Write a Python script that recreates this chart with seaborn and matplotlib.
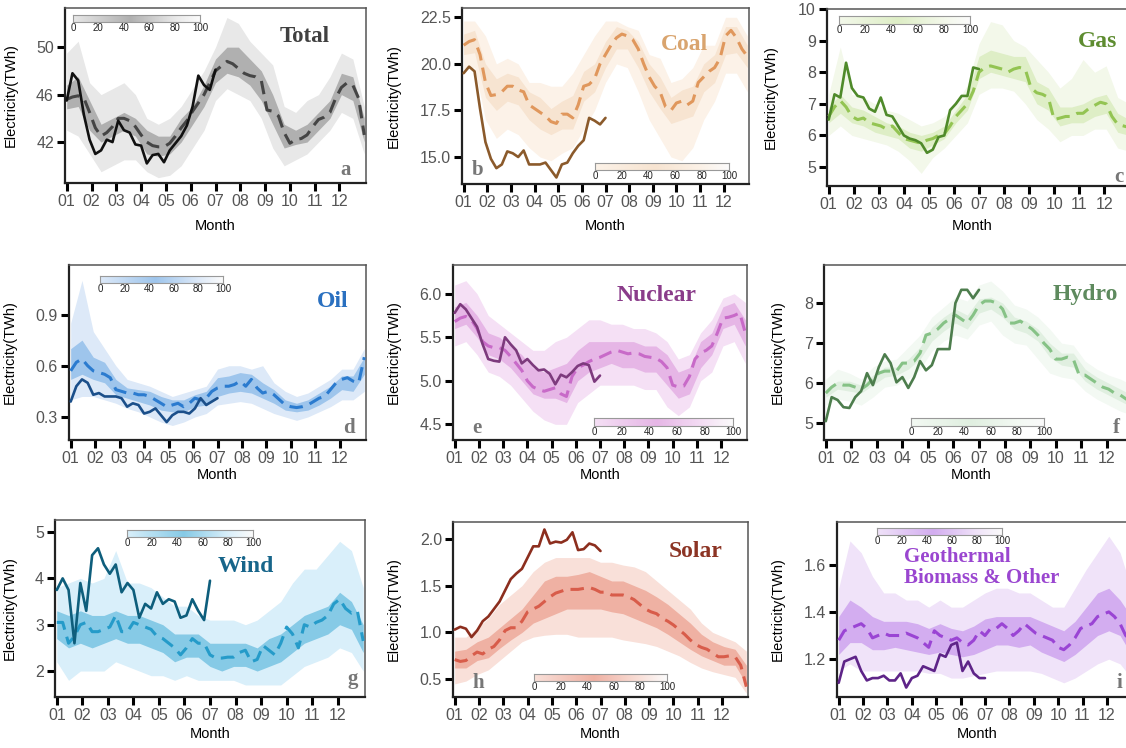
import numpy as np
import pandas as pd
import seaborn as sns
from matplotlib import pyplot as plt, ticker
from matplotlib.colors import LinearSegmentedColormap

# weekly values, week 0 = first week of January
MONTH_LABELS = ["01", "02", "03", "04", "05", "06", "07", "08", "09", "10", "11", "12"]
CBAR_TICKS = [0, 20, 40, 60, 80, 100]

TOTAL_MEDIAN = [45.6, 45.8, 45.9, 45.7, 44.5, 43.2, 42.5, 42.8, 43.3, 44.0, 44.0, 43.8, 43.3, 42.6, 42.0, 41.7, 41.6, 41.6,
                41.9, 42.5, 43.2, 43.8, 44.6, 45.3, 46.0, 47.0, 48.0, 48.4, 48.8, 48.6, 48.2, 47.8, 47.6, 47.5, 47.2, 44.7,
                44.6, 44.2, 42.8, 41.9, 42.2, 42.3, 42.6, 43.3, 43.9, 44.1, 44.5, 45.7, 46.6, 47.0, 46.8, 45.7, 42.6]
TOTAL_CURRENT = [45.5, 47.8, 47.2, 44.3, 42.2, 41.0, 41.3, 42.2, 42.0, 43.8, 43.0, 42.8, 41.8, 41.7, 40.2, 40.9, 41.0,
                 40.3, 41.3, 41.9, 42.5, 43.4, 45.0, 47.6, 46.8, 46.4, 48.1]
# biweekly quantile envelopes: min, 25 %, 75 %, max
TOTAL_LO = [43.0, 42.5, 41.0, 39.5, 40.0, 40.5, 40.5, 39.5, 39.0, 39.2, 40.0, 41.5, 43.0, 45.5, 46.5, 46.0, 45.5, 44.0,
            41.5, 40.0, 40.5, 41.0, 42.0, 43.0, 44.5, 44.0, 41.0]
TOTAL_Q25 = [44.8, 45.0, 43.0, 42.0, 42.5, 43.0, 42.5, 41.0, 40.8, 41.0, 42.0, 43.5, 45.0, 47.0, 47.8, 47.5, 46.8, 45.5,
             43.5, 41.5, 41.8, 42.0, 43.0, 44.0, 46.0, 45.5, 42.0]
TOTAL_Q75 = [46.8, 47.5, 45.5, 43.5, 44.0, 44.5, 44.0, 43.0, 42.5, 42.5, 44.0, 45.0, 46.8, 49.0, 50.0, 50.0, 49.0, 48.0,
             46.0, 43.5, 43.0, 43.5, 44.5, 45.5, 47.8, 47.5, 44.0]
TOTAL_HI = [49.5, 50.5, 47.0, 46.0, 46.5, 47.0, 46.0, 44.0, 43.5, 44.0, 45.0, 46.5, 48.0, 50.0, 52.5, 52.0, 50.5, 49.5,
            48.5, 45.0, 44.5, 45.5, 46.0, 47.5, 49.5, 49.0, 45.0]

COAL_MEDIAN = [21.0, 21.2, 21.3, 20.5, 19.0, 18.3, 18.35, 18.5, 18.8, 18.8, 18.6, 18.5, 17.8, 17.6, 17.4, 17.2, 16.9, 16.8,
               17.3, 17.3, 17.1, 17.8, 18.8, 18.9, 19.2, 20.0, 20.5, 21.0, 21.4, 21.6, 21.5, 21.3, 20.8, 20.0, 19.3, 18.8,
               18.5, 17.7, 17.5, 17.9, 18.0, 17.8, 18.0, 19.0, 19.3, 19.6, 19.8, 20.3, 21.5, 21.8, 21.4, 20.8, 20.4]
COAL_CURRENT = [19.5, 19.85, 19.6, 17.6, 15.8, 14.9, 14.4, 14.6, 15.3, 15.2, 15.0, 15.35, 14.6, 14.6, 14.6, 14.7, 14.3,
                13.9, 14.6, 14.7, 15.2, 15.6, 15.9, 17.1, 16.95, 16.75, 17.1]
COAL_LO = [19.7, 19.8, 17.0, 16.0, 16.5, 16.2, 15.5, 15.0, 14.8, 15.2, 15.5, 16.5, 17.5, 19.0, 20.0, 19.8, 18.5, 17.0,
           16.0, 15.0, 14.8, 15.5, 17.0, 18.0, 19.5, 19.5, 18.5]
COAL_Q25 = [20.5, 20.6, 18.2, 17.5, 18.0, 17.8, 17.0, 16.5, 16.2, 16.5, 16.5, 18.0, 18.5, 19.8, 20.8, 20.8, 19.8, 18.5,
            17.6, 16.8, 17.0, 17.2, 18.5, 19.0, 20.5, 20.6, 19.8]
COAL_Q75 = [21.6, 21.8, 20.0, 19.2, 19.5, 19.3, 18.5, 18.2, 17.6, 18.0, 18.3, 19.6, 20.0, 21.2, 22.0, 21.8, 21.2, 20.0,
            19.3, 18.2, 18.6, 18.8, 20.0, 20.5, 22.0, 22.0, 21.0]
COAL_HI = [22.3, 22.3, 21.5, 20.0, 20.3, 20.0, 19.0, 19.0, 18.8, 18.8, 19.5, 20.5, 21.5, 22.3, 22.3, 22.0, 21.8, 20.5,
           20.3, 19.0, 19.2, 19.8, 21.0, 21.0, 22.5, 22.5, 21.5]

GAS_MEDIAN = [6.6, 6.9, 7.1, 6.9, 6.6, 6.5, 6.55, 6.4, 6.35, 6.3, 6.2, 6.3, 6.1, 5.9, 5.85, 5.8, 5.75, 5.85, 5.9, 6.0,
              6.05, 6.3, 6.6, 6.8, 7.0, 7.4, 8.0, 8.15, 8.2, 8.15, 8.1, 8.0, 8.1, 8.15, 8.1, 7.5, 7.35, 7.3, 7.2, 6.5,
              6.55, 6.6, 6.6, 6.7, 6.7, 6.85, 6.95, 7.05, 7.0, 6.6, 6.35, 6.3, 6.25]
GAS_CURRENT = [6.5, 7.3, 7.2, 8.3, 7.5, 7.25, 7.2, 6.85, 6.75, 7.2, 6.65, 6.6, 6.3, 6.0, 5.9, 5.85, 5.75, 5.45, 5.55,
               5.95, 6.0, 6.8, 7.0, 7.25, 7.25, 8.15, 8.1]
GAS_LO = [6.0, 6.3, 6.0, 5.9, 5.8, 5.7, 5.5, 5.2, 4.8, 5.3, 5.6, 6.0, 6.4, 7.3, 7.5, 7.5, 7.4, 7.0, 6.5, 6.2, 5.8, 6.0,
          6.0, 6.2, 6.2, 5.6, 5.5]
GAS_Q25 = [6.4, 6.7, 6.4, 6.3, 6.1, 6.0, 5.9, 5.6, 5.5, 5.7, 5.9, 6.4, 6.8, 7.8, 8.0, 7.9, 7.8, 7.7, 7.0, 6.8, 6.3, 6.4,
           6.4, 6.6, 6.7, 6.1, 6.0]
GAS_Q75 = [6.9, 7.3, 6.9, 6.8, 6.6, 6.4, 6.3, 6.1, 6.0, 6.1, 6.3, 6.8, 7.3, 8.5, 8.7, 8.6, 8.5, 8.5, 7.7, 7.5, 6.9, 6.9,
           7.0, 7.2, 7.3, 6.7, 6.5]
GAS_HI = [7.3, 8.8, 7.3, 7.2, 7.0, 6.8, 6.7, 6.5, 6.3, 6.4, 6.6, 7.0, 7.6, 8.9, 9.6, 9.5, 9.0, 8.8, 8.4, 8.0, 7.5, 7.8,
          8.4, 8.0, 8.2, 7.2, 7.0]

OIL_MEDIAN = [0.57, 0.62, 0.64, 0.60, 0.57, 0.56, 0.55, 0.53, 0.46, 0.45, 0.44, 0.44, 0.43, 0.43, 0.42, 0.40, 0.38, 0.36,
              0.37, 0.38, 0.36, 0.38, 0.41, 0.40, 0.41, 0.45, 0.47, 0.48, 0.48, 0.49, 0.51, 0.48, 0.52, 0.47, 0.44, 0.45,
              0.43, 0.40, 0.37, 0.36, 0.355, 0.36, 0.37, 0.39, 0.41, 0.42, 0.46, 0.50, 0.52, 0.53, 0.51, 0.50, 0.65]
OIL_CURRENT = [0.39, 0.48, 0.52, 0.50, 0.43, 0.44, 0.42, 0.42, 0.42, 0.41, 0.36, 0.38, 0.37, 0.32, 0.33, 0.35, 0.31,
               0.27, 0.31, 0.33, 0.33, 0.32, 0.35, 0.41, 0.37, 0.39, 0.41]
OIL_LO = [0.40, 0.42, 0.42, 0.40, 0.38, 0.35, 0.33, 0.30, 0.27, 0.25, 0.27, 0.30, 0.32, 0.37, 0.38, 0.39, 0.38, 0.35,
          0.32, 0.30, 0.28, 0.30, 0.33, 0.36, 0.40, 0.40, 0.45]
OIL_Q25 = [0.52, 0.55, 0.52, 0.50, 0.43, 0.41, 0.39, 0.37, 0.34, 0.33, 0.33, 0.36, 0.37, 0.42, 0.44, 0.45, 0.44, 0.41,
           0.38, 0.34, 0.33, 0.34, 0.37, 0.41, 0.46, 0.45, 0.55]
OIL_Q75 = [0.70, 0.75, 0.65, 0.62, 0.52, 0.47, 0.46, 0.45, 0.42, 0.40, 0.40, 0.43, 0.45, 0.53, 0.54, 0.56, 0.55, 0.50,
           0.46, 0.40, 0.38, 0.40, 0.44, 0.48, 0.54, 0.54, 0.65]
OIL_HI = [0.85, 1.10, 0.80, 0.70, 0.60, 0.52, 0.50, 0.48, 0.45, 0.42, 0.44, 0.46, 0.48, 0.58, 0.60, 0.60, 0.58, 0.60,
          0.50, 0.45, 0.42, 0.44, 0.48, 0.52, 0.58, 0.58, 0.70]

NUCLEAR_MEDIAN = [5.68, 5.72, 5.74, 5.70, 5.60, 5.45, 5.40, 5.38, 5.38, 5.35, 5.28, 5.20, 5.12, 5.00, 4.93, 4.90, 4.88,
                  4.90, 4.92, 4.85, 4.82, 5.05, 5.15, 5.18, 5.22, 5.25, 5.27, 5.30, 5.33, 5.35, 5.33, 5.31, 5.32, 5.31,
                  5.28, 5.27, 5.26, 5.22, 5.15, 4.95, 4.93, 4.94, 5.05, 5.25, 5.32, 5.35, 5.40, 5.55, 5.72, 5.73, 5.75,
                  5.78, 5.55]
NUCLEAR_CURRENT = [5.78, 5.88, 5.82, 5.72, 5.62, 5.42, 5.25, 5.23, 5.22, 5.50, 5.42, 5.35, 5.20, 5.25, 5.18, 5.12,
                   5.13, 5.08, 4.96, 5.07, 5.04, 5.10, 5.17, 5.20, 5.18, 4.99, 5.06]
NUCLEAR_LO = [5.40, 5.45, 5.30, 5.10, 5.05, 4.95, 4.80, 4.65, 4.55, 4.50, 4.50, 4.75, 4.85, 4.95, 4.95, 4.95, 4.95,
              4.90, 4.90, 4.70, 4.60, 4.70, 5.00, 5.10, 5.40, 5.45, 5.20]
NUCLEAR_Q25 = [5.60, 5.65, 5.50, 5.30, 5.25, 5.15, 5.00, 4.85, 4.80, 4.80, 4.75, 5.00, 5.10, 5.15, 5.20, 5.15, 5.15,
               5.10, 5.10, 4.95, 4.80, 4.85, 5.15, 5.30, 5.60, 5.65, 5.40]
NUCLEAR_Q75 = [5.85, 5.90, 5.75, 5.55, 5.50, 5.40, 5.30, 5.15, 5.10, 5.15, 5.20, 5.35, 5.45, 5.45, 5.45, 5.45, 5.45,
               5.40, 5.40, 5.30, 5.10, 5.15, 5.45, 5.55, 5.85, 5.90, 5.70]
NUCLEAR_HI = [6.10, 6.15, 6.00, 5.75, 5.65, 5.55, 5.45, 5.35, 5.35, 5.45, 5.50, 5.60, 5.70, 5.70, 5.65, 5.65, 5.60,
              5.60, 5.55, 5.45, 5.25, 5.30, 5.55, 5.70, 5.95, 6.00, 5.90]

HYDRO_MEDIAN = [5.75, 5.9, 6.0, 5.95, 5.95, 5.9, 5.85, 5.95, 6.1, 6.25, 6.3, 6.3, 6.3, 6.5, 6.5, 6.55, 6.75, 7.2, 7.25,
                7.35, 7.5, 7.6, 7.7, 7.6, 7.5, 7.7, 7.95, 8.05, 8.05, 8.0, 7.85, 7.5, 7.5, 7.55, 7.45, 7.35, 7.2, 7.0,
                6.85, 6.6, 6.6, 6.65, 6.6, 6.2, 6.2, 6.1, 6.0, 5.9, 5.85, 5.75, 5.7, 5.6, 5.55]
HYDRO_CURRENT = [5.05, 5.65, 5.58, 5.4, 5.38, 5.65, 5.8, 6.25, 5.95, 6.4, 6.72, 6.5, 6.02, 6.15, 5.88, 6.15, 6.55, 6.32,
                 6.45, 6.85, 6.85, 6.85, 8.0, 8.33, 8.33, 8.12, 8.33]
HYDRO_LO = [5.45, 5.6, 5.55, 5.45, 5.65, 5.9, 5.95, 6.1, 6.35, 6.8, 7.05, 7.2, 7.1, 7.45, 7.55, 7.2, 7.0, 6.95, 6.6, 6.25,
            6.15, 6.1, 5.8, 5.6, 5.45, 5.3, 5.2]
HYDRO_Q25 = [5.65, 5.85, 5.8, 5.75, 5.95, 6.15, 6.2, 6.35, 6.6, 7.05, 7.3, 7.5, 7.35, 7.75, 7.85, 7.65, 7.35, 7.25, 7.05,
             6.65, 6.45, 6.4, 6.05, 5.85, 5.7, 5.55, 5.4]
HYDRO_Q75 = [5.85, 6.05, 6.05, 5.95, 6.2, 6.4, 6.4, 6.6, 6.9, 7.4, 7.65, 7.85, 7.7, 8.1, 8.15, 8.0, 7.65, 7.55, 7.35,
             7.0, 6.75, 6.75, 6.35, 6.15, 6.0, 5.85, 5.7]
HYDRO_HI = [6.1, 6.35, 6.25, 6.1, 6.4, 6.55, 6.6, 6.9, 7.2, 7.65, 7.9, 8.15, 8.05, 8.45, 8.55, 8.3, 7.95, 7.85, 7.65, 7.35,
            7.0, 6.95, 6.55, 6.35, 6.2, 6.1, 5.95]

WIND_MEDIAN = [3.05, 3.05, 2.6, 2.75, 3.0, 3.05, 2.85, 2.85, 2.9, 2.95, 3.2, 2.85, 2.85, 3.05, 3.0, 2.95, 2.9, 2.75, 2.7,
               2.6, 2.5, 2.35, 2.5, 2.7, 2.6, 2.6, 2.35, 2.28, 2.28, 2.3, 2.3, 2.4, 2.45, 2.2, 2.25, 2.55, 2.45, 2.35,
               2.6, 2.95, 2.8, 2.5, 3.0, 2.95, 3.05, 3.1, 3.2, 3.45, 3.55, 3.35, 3.25, 3.3, 2.65]
WIND_CURRENT = [3.75, 4.0, 3.75, 2.6, 3.9, 3.3, 4.5, 4.65, 4.3, 4.1, 4.3, 3.7, 3.9, 3.75, 3.15, 3.45, 3.35, 3.7, 3.45,
                3.55, 3.5, 3.15, 3.2, 3.55, 3.3, 3.1, 3.95]
WIND_LO = [2.2, 1.8, 2.0, 2.0, 2.0, 2.2, 2.1, 2.0, 1.9, 1.9, 1.8, 1.9, 1.8, 1.8, 1.8, 1.8, 1.7, 1.7, 1.7, 1.7, 1.9, 2.1,
           2.2, 2.3, 2.5, 2.4, 2.0]
WIND_Q25 = [2.7, 2.5, 2.6, 2.5, 2.6, 2.7, 2.6, 2.6, 2.5, 2.4, 2.2, 2.3, 2.3, 2.1, 2.0, 2.1, 2.1, 2.0, 2.1, 2.2, 2.4, 2.6,
            2.7, 2.8, 3.0, 2.9, 2.4]
WIND_Q75 = [3.3, 3.2, 3.3, 3.2, 3.2, 3.3, 3.2, 3.2, 3.1, 3.0, 2.8, 2.8, 2.8, 2.6, 2.6, 2.6, 2.6, 2.5, 2.7, 2.8, 3.0, 3.2,
            3.3, 3.4, 3.7, 3.5, 3.0]
WIND_HI = [3.8, 3.9, 4.0, 3.9, 4.0, 4.6, 3.9, 3.9, 3.8, 3.6, 3.4, 3.4, 3.2, 3.1, 3.1, 3.1, 3.0, 3.1, 3.3, 3.5, 3.9, 4.2,
           4.2, 4.5, 4.8, 4.6, 3.8]

SOLAR_MEDIAN = [0.71, 0.69, 0.70, 0.75, 0.79, 0.77, 0.82, 0.85, 0.92, 1.02, 1.05, 1.05, 1.12, 1.22, 1.25, 1.28, 1.33,
                1.38, 1.42, 1.44, 1.46, 1.46, 1.46, 1.47, 1.48, 1.46, 1.43, 1.43, 1.40, 1.40, 1.40, 1.38, 1.35, 1.30,
                1.25, 1.22, 1.20, 1.15, 1.12, 1.08, 1.03, 0.98, 0.92, 0.87, 0.84, 0.82, 0.78, 0.74, 0.74, 0.75, 0.74,
                0.65, 0.42]
SOLAR_CURRENT = [1.03, 1.06, 1.04, 0.95, 1.02, 1.12, 1.17, 1.25, 1.33, 1.45, 1.57, 1.63, 1.68, 1.80, 1.92, 1.92, 2.10,
                 1.95, 1.97, 1.96, 1.99, 2.07, 1.88, 1.89, 1.95, 1.93, 1.87]
SOLAR_LO = [0.45, 0.48, 0.55, 0.60, 0.70, 0.80, 0.90, 0.95, 0.97, 0.98, 0.98, 0.95, 0.95, 0.95, 0.95, 0.92, 0.90, 0.88,
            0.85, 0.80, 0.75, 0.68, 0.62, 0.58, 0.55, 0.52, 0.35]
SOLAR_Q25 = [0.62, 0.62, 0.70, 0.73, 0.83, 0.92, 1.00, 1.10, 1.15, 1.20, 1.25, 1.25, 1.25, 1.25, 1.22, 1.20, 1.15, 1.10,
             1.05, 0.98, 0.90, 0.82, 0.75, 0.70, 0.65, 0.65, 0.45]
SOLAR_Q75 = [0.80, 0.82, 0.90, 0.95, 1.05, 1.15, 1.25, 1.40, 1.55, 1.60, 1.60, 1.62, 1.65, 1.60, 1.55, 1.55, 1.50, 1.45,
             1.38, 1.30, 1.20, 1.10, 0.98, 0.90, 0.85, 0.82, 0.65]
SOLAR_HI = [0.95, 0.95, 1.05, 1.15, 1.30, 1.40, 1.50, 1.65, 1.75, 1.80, 1.80, 1.80, 1.80, 1.75, 1.75, 1.72, 1.70, 1.65,
            1.55, 1.45, 1.35, 1.25, 1.10, 1.00, 0.95, 0.90, 0.80]

GEO_MEDIAN = [1.28, 1.32, 1.33, 1.34, 1.35, 1.33, 1.29, 1.30, 1.31, 1.30, 1.30, 1.30, 1.31, 1.30, 1.29, 1.27, 1.25, 1.32,
              1.30, 1.29, 1.28, 1.29, 1.27, 1.26, 1.28, 1.32, 1.30, 1.33, 1.33, 1.35, 1.33, 1.30, 1.32, 1.35, 1.33, 1.31,
              1.30, 1.29, 1.28, 1.25, 1.24, 1.26, 1.29, 1.33, 1.34, 1.35, 1.38, 1.39, 1.40, 1.38, 1.35, 1.30, 1.28]
GEO_CURRENT = [1.10, 1.19, 1.20, 1.21, 1.15, 1.11, 1.12, 1.12, 1.13, 1.11, 1.11, 1.14, 1.08, 1.12, 1.13, 1.17, 1.16,
               1.15, 1.22, 1.21, 1.26, 1.27, 1.15, 1.19, 1.14, 1.12, 1.12]
GEO_LO = [1.15, 1.18, 1.15, 1.15, 1.15, 1.15, 1.15, 1.15, 1.14, 1.14, 1.12, 1.12, 1.13, 1.14, 1.15, 1.15, 1.15, 1.15,
          1.14, 1.12, 1.10, 1.12, 1.15, 1.18, 1.20, 1.18, 1.12]
GEO_Q25 = [1.22, 1.27, 1.27, 1.24, 1.24, 1.25, 1.24, 1.23, 1.22, 1.23, 1.22, 1.21, 1.22, 1.24, 1.26, 1.26, 1.25, 1.26,
           1.23, 1.21, 1.19, 1.22, 1.26, 1.30, 1.32, 1.30, 1.22]
GEO_Q75 = [1.38, 1.45, 1.42, 1.38, 1.36, 1.36, 1.36, 1.35, 1.33, 1.35, 1.33, 1.32, 1.34, 1.37, 1.38, 1.38, 1.38, 1.38,
           1.36, 1.34, 1.32, 1.36, 1.42, 1.48, 1.50, 1.45, 1.38]
GEO_HI = [1.50, 1.70, 1.65, 1.55, 1.48, 1.48, 1.45, 1.45, 1.42, 1.45, 1.42, 1.42, 1.45, 1.48, 1.50, 1.50, 1.48, 1.48,
          1.45, 1.42, 1.42, 1.50, 1.58, 1.65, 1.72, 1.65, 1.50]

W, H = 1126, 748


def frac_rect(l, t, r, b):
    return [l / W, 1 - b / H, (r - l) / W, (b - t) / H]


def px(x, y):
    return x / W, 1 - y / H


# data, axes rect (px l,t,r,b), ylim, yticks, tick format, colours, title, letter, key rect
PANELS = [
    dict(title="Total", data=(TOTAL_MEDIAN, TOTAL_CURRENT, TOTAL_LO, TOTAL_Q25, TOTAL_Q75, TOTAL_HI),
         rect=(65, 8, 366, 183), ylim=(38.55, 53.3), yticks=[42, 46, 50], fmt="%d",
         outer="#e8e8e8", inner="#b0b0b0", med="#454545", cur="#111111", tcol="#404040",
         tpos=(330, 42, "right"), tsize=16.5, letter="a", lpos=(340, 175), cbar=(73, 15, 200, 22), ylx=18, mly=219),
    dict(title="Coal", data=(COAL_MEDIAN, COAL_CURRENT, COAL_LO, COAL_Q25, COAL_Q75, COAL_HI),
         rect=(462, 8, 749, 184), ylim=(13.55, 23.0), yticks=[15.0, 17.5, 20.0, 22.5], fmt="%.1f",
         outer="#fcf2e8", inner="#f7e4d1", med="#e0975c", cur="#8b5a2b", tcol="#d9a46e",
         tpos=(708, 50, "right"), tsize=17, letter="b", lpos=(472, 175), cbar=(595, 163, 729, 170), ylx=401, mly=219),
    dict(title="Gas", data=(GAS_MEDIAN, GAS_CURRENT, GAS_LO, GAS_Q25, GAS_Q75, GAS_HI),
         rect=(827, 9, 1131, 186), ylim=(4.4, 10.0), yticks=[5, 6, 7, 8, 9, 10], fmt="%d",
         outer="#f3f8ea", inner="#deeec6", med="#93c452", cur="#4f8a2a", tcol="#5e8c30",
         tpos=(1117, 47, "right"), tsize=17, letter="c", lpos=(1114, 182), cbar=(839, 16, 970, 24), ylx=778, mly=219),
    dict(title="Oil", data=(OIL_MEDIAN, OIL_CURRENT, OIL_LO, OIL_Q25, OIL_Q75, OIL_HI),
         rect=(69, 265, 366, 440), ylim=(0.165, 1.19), yticks=[0.3, 0.6, 0.9], fmt="%.1f",
         outer="#dde9f8", inner="#9ec5ec", med="#2b7bcf", cur="#1b4f8a", tcol="#2a70c0",
         tpos=(349, 307, "right"), tsize=17, letter="d", lpos=(343, 433), cbar=(100, 276, 223, 283), ylx=17, mly=468),
    dict(title="Nuclear", data=(NUCLEAR_MEDIAN, NUCLEAR_CURRENT, NUCLEAR_LO, NUCLEAR_Q25, NUCLEAR_Q75, NUCLEAR_HI),
         rect=(453, 265, 747, 440), ylim=(4.32, 6.33), yticks=[4.5, 5.0, 5.5, 6.0], fmt="%.1f",
         outer="#f5e0f5", inner="#e6b6e6", med="#c86ac8", cur="#7d3a7d", tcol="#8a3c8a",
         tpos=(697, 301, "right"), tsize=17, letter="e", lpos=(472, 433), cbar=(594, 418, 733, 426), ylx=401, mly=468),
    dict(title="Hydro", data=(HYDRO_MEDIAN, HYDRO_CURRENT, HYDRO_LO, HYDRO_Q25, HYDRO_Q75, HYDRO_HI),
         rect=(824, 265, 1134, 440), ylim=(4.58, 8.95), yticks=[5, 6, 7, 8], fmt="%d",
         outer="#f3f9f3", inner="#e0efe0", med="#86c286", cur="#4d7d4d", tcol="#5e8a5e",
         tpos=(1118, 300, "right"), tsize=17, letter="f", lpos=(1113, 433), cbar=(911, 418, 1044, 426), ylx=785, mly=468),
    dict(title="Wind", data=(WIND_MEDIAN, WIND_CURRENT, WIND_LO, WIND_Q25, WIND_Q75, WIND_HI),
         rect=(55, 520, 365, 697), ylim=(1.44, 5.26), yticks=[2, 3, 4, 5], fmt="%d",
         outer="#d9effa", inner="#86cae6", med="#259bc9", cur="#0e5e7c", tcol="#17658a",
         tpos=(274, 572, "right"), tsize=17, letter="g", lpos=(347, 684), cbar=(127, 530, 253, 537), ylx=17, mly=727),
    dict(title="Solar", data=(SOLAR_MEDIAN, SOLAR_CURRENT, SOLAR_LO, SOLAR_Q25, SOLAR_Q75, SOLAR_HI),
         rect=(453, 522, 748, 697), ylim=(0.31, 2.18), yticks=[0.5, 1.0, 1.5, 2.0], fmt="%.1f",
         outer="#f9e0d9", inner="#efb1a3", med="#d85c4a", cur="#8c2e1e", tcol="#8c3424",
         tpos=(723, 557, "right"), tsize=17, letter="h", lpos=(472, 688), cbar=(534, 674, 667, 681), ylx=401, mly=727),
    dict(title="Geothermal\nBiomass & Other", data=(GEO_MEDIAN, GEO_CURRENT, GEO_LO, GEO_Q25, GEO_Q75, GEO_HI),
         rect=(837, 522, 1133, 697), ylim=(1.04, 1.78), yticks=[1.2, 1.4, 1.6], fmt="%.1f",
         outer="#f0e3f9", inner="#d3adf0", med="#9a44d4", cur="#5e2488", tcol="#9a46d0",
         tpos=(904, 583, "left"), tsize=15, letter="i", lpos=(1117, 688), cbar=(877, 528, 1002, 535), ylx=785, mly=727),
]


def draw_panel(fig, p):
    median, current, lo, q25, q75, hi = p["data"]
    l, t, r, b = p["rect"]
    ax = fig.add_axes(frac_rect(l, t, r, b))

    band_weeks = 2 * np.arange(len(lo))
    ax.fill_between(band_weeks, lo, hi, color=p["outer"], lw=0, zorder=1)
    ax.fill_between(band_weeks, q25, q75, color=p["inner"], lw=0, zorder=2)

    med_df = pd.DataFrame({"week": np.arange(len(median)), "value": median})
    cur_df = pd.DataFrame({"week": np.arange(len(current)), "value": current})
    sns.lineplot(data=med_df, x="week", y="value", ax=ax, color=p["med"], linewidth=2.2,
                 linestyle=(0, (4.4, 2.4)), errorbar=None, zorder=3)
    sns.lineplot(data=cur_df, x="week", y="value", ax=ax, color=p["cur"], linewidth=1.9,
                 errorbar=None, zorder=4)

    ax.set_xlim(-0.3, 52.3)
    ax.set_ylim(*p["ylim"])
    ax.set_xticks([k * 52 / 12 for k in range(12)])
    ax.set_xticklabels(MONTH_LABELS)
    ax.set_yticks(p["yticks"])
    ax.yaxis.set_major_formatter(ticker.FormatStrFormatter(p["fmt"]))
    ax.tick_params(axis="both", direction="out", length=6, width=2.2, color="black",
                   labelcolor="#555555", labelsize=11.5, pad=2)
    for side, sp in ax.spines.items():
        sp.set_visible(True)
        sp.set_color("#222222" if side in ("left", "bottom") else "#555555")
        sp.set_linewidth(1.6 if side in ("left", "bottom") else 1.1)

    ax.set_xlabel("Month", fontsize=10.5, color="black")
    ax.xaxis.set_label_coords((l + r) / 2 / W if r < W else (l + W - 8) / 2 / W, 1 - p["mly"] / H,
                              transform=fig.transFigure)
    ax.set_ylabel("Electricity(TWh)", fontsize=10.5, color="black")
    ax.yaxis.set_label_coords(p["ylx"] / W, 1 - (t + b) / 2 / H, transform=fig.transFigure)

    tx, ty, ha = p["tpos"]
    fig.text(*px(tx, ty), p["title"], ha=ha, va="baseline", fontsize=p["tsize"], color=p["tcol"],
             family=["Liberation Serif", "DejaVu Serif"], fontweight="bold", linespacing=1.05)
    fig.text(*px(*p["lpos"]), p["letter"], ha="left", va="baseline", fontsize=15, color="#777777",
             family=["Liberation Serif", "DejaVu Serif"], fontweight="bold")

    # percentile key
    cl, ct, cr, cb = p["cbar"]
    cax = fig.add_axes(frac_rect(cl, ct, cr, cb))
    cmap = LinearSegmentedColormap.from_list(
        "key", [(0.0, p["outer"]), (0.45, p["inner"]), (0.8, p["outer"]), (1.0, "#fbfbfb")])
    cax.imshow(np.linspace(0, 1, 256)[None, :], cmap=cmap, aspect="auto", extent=(0, 100, 0, 1))
    cax.set_xticks(CBAR_TICKS)
    cax.set_yticks([])
    cax.tick_params(axis="x", length=0, pad=1, labelsize=7, labelcolor="#222222")
    for sp in cax.spines.values():
        sp.set_color("#999999")
        sp.set_linewidth(0.8)
    return ax


def main():
    sns.set_theme(style="ticks")
    plt.rcParams["font.family"] = ["Liberation Sans", "DejaVu Sans"]

    fig = plt.figure(figsize=(W / 100, H / 100), dpi=100)
    for p in PANELS:
        draw_panel(fig, p)

    fig.savefig("out.png", dpi=100, facecolor="white")


if __name__ == '__main__':
    main()
